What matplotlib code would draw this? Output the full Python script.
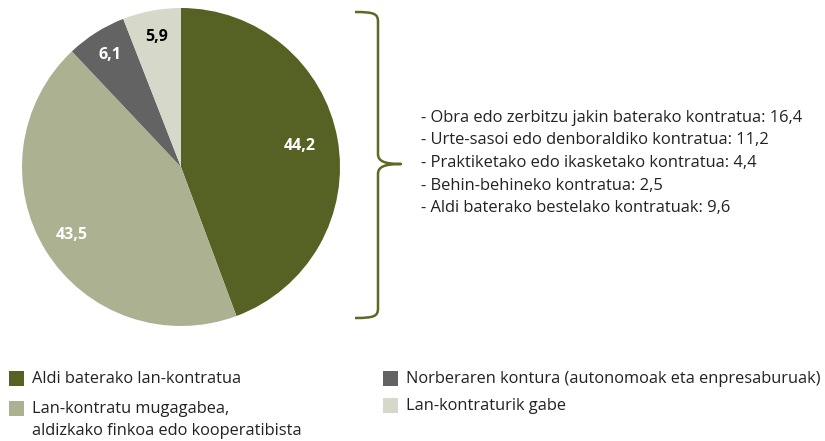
import matplotlib
matplotlib.use("Agg")
import matplotlib.pyplot as plt
import numpy as np
from matplotlib.path import Path
from matplotlib.patches import PathPatch, Rectangle

plt.rcParams['font.family'] = ['Open Sans', 'DejaVu Sans']

categories = ["Aldi baterako lan-kontratua",
              "Lan-kontratu mugagabea,\naldizkako finkoa edo kooperatibista",
              "Norberaren kontura (autonomoak eta enpresaburuak)",
              "Lan-kontraturik gabe"]
values = [44.2, 43.5, 6.1, 5.9]
value_labels = ["44,2", "43,5", "6,1", "5,9"]
colors = ["#566223", "#abb191", "#636363", "#d6d9ca"]
label_colors = ["white", "white", "white", "black"]

breakdown = ["- Obra edo zerbitzu jakin baterako kontratua: 16,4",
             "- Urte-sasoi edo denboraldiko kontratua: 11,2",
             "- Praktiketako edo ikasketako kontratua: 4,4",
             "- Behin-behineko kontratua: 2,5",
             "- Aldi baterako bestelako kontratuak: 9,6"]

W, H = 825, 441
fig = plt.figure(figsize=(W / 100, H / 100), dpi=100)

def fx(x):
    return x / W

def fy(y):
    return 1 - y / H

cx, cy, r = 181, 167, 159
ax = fig.add_axes([fx(cx - r), fy(cy + r), 2 * r / W, 2 * r / H])
wedges, _ = ax.pie(values, colors=colors, startangle=90, counterclock=False,
                   radius=1, wedgeprops=dict(linewidth=0))
ax.set_xlim(-1, 1)
ax.set_ylim(-1, 1)
ax.set_aspect('auto')
ax.axis('off')
dists = [0.76, 0.81, 0.83, 0.83]
for w, lab, c, d in zip(wedges, value_labels, label_colors, dists):
    ang = np.deg2rad((w.theta1 + w.theta2) / 2)
    ax.text(d * np.cos(ang), d * np.sin(ang), lab, ha='center', va='center',
            color=c, fontsize=11.5, fontweight='bold')

# brace (in pixel coords -> figure coords)
bx0, bx1, btip = 355, 378, 401
ytop, ymid, ybot = 12, 164, 318
pts = [(bx0, ytop), (bx1 - 3, ytop), (bx1, ytop + 2), (bx1, ytop + 10),
       (bx1, ymid - 10),
       (bx1, ymid - 3), (bx1 + 6, ymid), (btip, ymid),
       (bx1 + 6, ymid), (bx1, ymid + 3), (bx1, ymid + 10),
       (bx1, ybot - 10),
       (bx1, ybot - 2), (bx1 - 3, ybot), (bx0, ybot)]
codes = [Path.MOVETO, Path.CURVE4, Path.CURVE4, Path.CURVE4,
         Path.LINETO,
         Path.CURVE4, Path.CURVE4, Path.CURVE4,
         Path.CURVE4, Path.CURVE4, Path.CURVE4,
         Path.LINETO,
         Path.CURVE4, Path.CURVE4, Path.CURVE4]
path = Path([(fx(x), fy(y)) for x, y in pts], codes)
fig.patches.append(PathPatch(path, transform=fig.transFigure, facecolor='none',
                             edgecolor='#5b6a24', linewidth=1.8,
                             capstyle='butt', joinstyle='round'))

for i, line in enumerate(breakdown):
    fig.text(fx(421), fy(118 + i * 22.5), line, ha='left', va='center',
             fontsize=11.9, color='#222222')

# legend
leg_pos = [(9, 378, 379), (9, 408, 409), (383, 378, 379), (383, 405, 406)]
for (x, ysq, ytx), lab, c in zip(leg_pos, categories, colors):
    s = 15
    fig.patches.append(Rectangle((fx(x), fy(ysq + s / 2)), s / W, s / H,
                                 transform=fig.transFigure, facecolor=c,
                                 edgecolor='none'))
    lines = lab.split("\n")
    for j, ln in enumerate(lines):
        fig.text(fx(x + 23), fy(ytx + j * 22), ln, ha='left', va='center',
                 fontsize=11.8, color='#222222')

fig.savefig("out.png", dpi=100)
